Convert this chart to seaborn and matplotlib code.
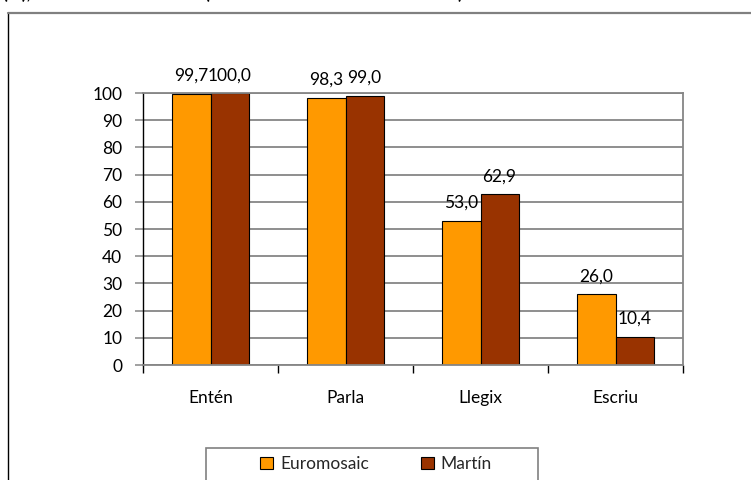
import matplotlib
matplotlib.use("Agg")
import matplotlib.pyplot as plt
from matplotlib.patches import Rectangle, Patch
from matplotlib.lines import Line2D
from matplotlib.ticker import FixedLocator
import seaborn as sns
import pandas as pd

categories = ["Entén", "Parla", "Llegix", "Escriu"]
series_names = ["Euromosaic", "Martín"]
euromosaic = [99.7, 98.3, 53.0, 26.0]
martin = [100.0, 99.0, 62.9, 10.4]
yticks = [0, 10, 20, 30, 40, 50, 60, 70, 80, 90, 100]
colors = ["#FF9900", "#993300"]

df = pd.DataFrame({
    "cat": categories * 2,
    "series": [series_names[0]] * 4 + [series_names[1]] * 4,
    "val": euromosaic + martin,
})

sns.set_theme(style="white")
plt.rcParams["font.family"] = ["Lato", "DejaVu Sans"]
FS = 12.5

W, H = 751, 480
fig = plt.figure(figsize=(W / 100, H / 100), dpi=100)
ax = fig.add_axes([143 / W, 1 - 365 / H, (683 - 143) / W, (365 - 93) / H])

sns.barplot(data=df, x="cat", y="val", hue="series", palette=colors, saturation=1,
            width=0.563, edgecolor="black", linewidth=0.8, ax=ax,
            legend=False, order=categories, hue_order=series_names)

ax.set_ylim(0, 100)
ax.set_xlim(-0.5, 3.5)
ax.set_xlabel("")
ax.set_ylabel("")
ax.set_yticks(yticks)
ax.set_yticklabels([str(t) for t in yticks], fontsize=FS, color="black")
ax.yaxis.grid(True, color="#868686", linewidth=1.3)
ax.set_axisbelow(True)

ax.tick_params(axis="y", direction="out", length=6, width=1.1, color="#868686", pad=9, left=True)
ax.tick_params(axis="x", which="major", length=0, pad=18, labelsize=FS, labelcolor="black")
ax.xaxis.set_minor_locator(FixedLocator([-0.5, 0.5, 1.5, 2.5, 3.5]))
ax.tick_params(axis="x", which="minor", direction="out", length=6, width=1.0, color="black", bottom=True)

ax.spines["left"].set_color("black")
ax.spines["left"].set_linewidth(1.0)
for s in ["right", "top", "bottom"]:
    ax.spines[s].set_color("#868686")
    ax.spines[s].set_linewidth(1.3)

for cont in ax.containers:
    vals = [b.get_height() for b in cont]
    ax.bar_label(cont, labels=[f"{v:.1f}".replace(".", ",") for v in vals],
                 padding=7, fontsize=FS, color="black")

# chart area frame (clipped)
fig.add_artist(Line2D([8 / W, 8 / W], [1 - 13 / H, 0], transform=fig.transFigure,
                      color="black", linewidth=1.0))
fig.add_artist(Line2D([8 / W, 1.0], [1 - 13 / H, 1 - 13 / H], transform=fig.transFigure,
                      color="#808080", linewidth=1.6))

# legend box (clipped at bottom)
fig.add_artist(Rectangle((206 / W, -0.05), (538 - 206) / W, (480 - 448) / H + 0.05,
                         transform=fig.transFigure, facecolor="white",
                         edgecolor="#808080", linewidth=1.2))
handles = [Patch(facecolor=c, edgecolor="black", linewidth=0.8) for c in colors]
fig.legend(handles, series_names, loc="center", bbox_to_anchor=(376 / W, 1 - 464 / H),
           ncol=2, frameon=False, fontsize=FS, handlelength=0.75, handleheight=0.75,
           handletextpad=0.4, columnspacing=3.0)

# clipped title (only descenders visible)
for txt, xp in [("(%),", 2), ("(", 204), (")", 457)]:
    fig.text(xp / W, 1.0 + 1 / H, txt, fontsize=13, fontweight="bold",
             va="baseline", ha="left", color="black")

fig.savefig("out.png", dpi=100)
